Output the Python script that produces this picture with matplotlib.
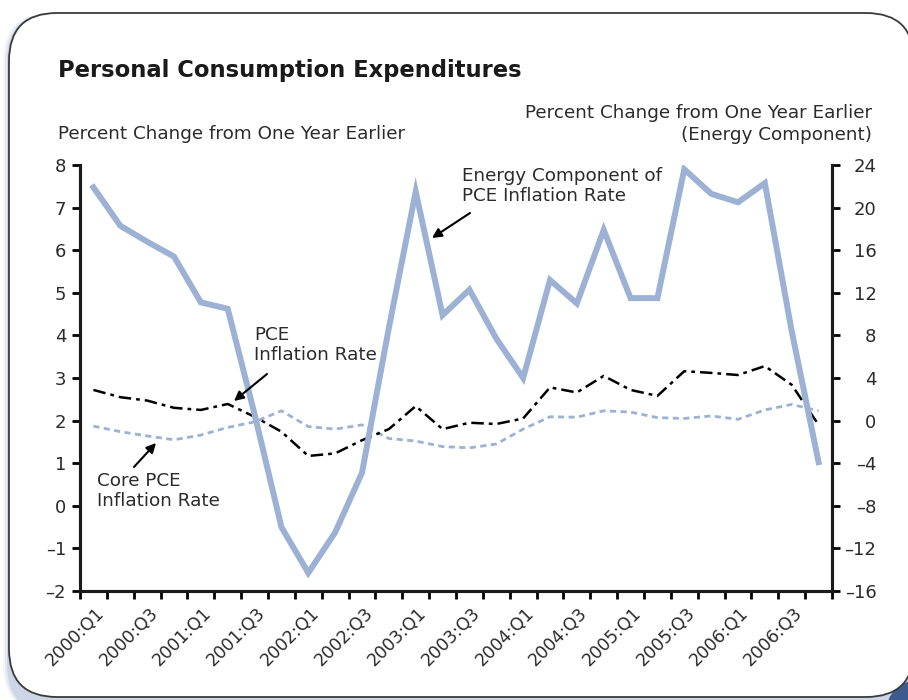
import numpy as np
import matplotlib
matplotlib.use("Agg")
import matplotlib.pyplot as plt
import matplotlib.transforms as mtransforms
from matplotlib.patches import FancyBboxPatch, Circle
from matplotlib.ticker import FuncFormatter

plt.rcParams['font.family'] = ['DejaVu Sans']

# quarters 2000:Q1 .. 2006:Q4
quarters = [f"{y}:Q{q}" for y in range(2000, 2007) for q in range(1, 5)]

# PCE inflation rate (left axis, %)
pce = [2.72, 2.55, 2.47, 2.30, 2.25, 2.39, 2.09, 1.74, 1.17, 1.23,
       1.54, 1.80, 2.34, 1.80, 1.95, 1.92, 2.05, 2.78, 2.66, 3.05,
       2.72, 2.58, 3.16, 3.12, 3.07, 3.28, 2.84, 1.90]

# core PCE inflation rate (left axis, %)
core_pce = [1.87, 1.74, 1.64, 1.55, 1.66, 1.84, 1.97, 2.23, 1.86, 1.80,
            1.90, 1.58, 1.52, 1.39, 1.36, 1.45, 1.80, 2.09, 2.08, 2.23,
            2.20, 2.07, 2.05, 2.11, 2.03, 2.25, 2.38, 2.23]

# energy component (right axis, %)
energy = [21.9, 18.3, 16.8, 15.4, 11.1, 10.5, 0.6, -10.0, -14.3, -10.5,
          -4.9, 8.7, 21.5, 9.9, 12.3, 7.7, 4.0, 13.2, 11.0, 17.9,
          11.5, 11.5, 23.6, 21.3, 20.5, 22.3, 8.4, -3.9]

blue = '#9cb1d3'
txt = '#2b2b2b'

fig = plt.figure(figsize=(9.08, 7.0), dpi=100)


def pixel_axes(z):
    a = fig.add_axes([0, 0, 1, 1], zorder=z)
    a.set_xlim(0, 908)
    a.set_ylim(700, 0)
    a.axis('off')
    a.patch.set_alpha(0)
    return a


# background frame, drawn in pixel units
bg = pixel_axes(-10)
for off, a in [(6, 0.10), (4, 0.15), (2, 0.25)]:
    bg.add_patch(FancyBboxPatch((9 - off, 13), 905, 700,
                                boxstyle="round,pad=0,rounding_size=48",
                                fc='#8ea1c8', ec='none', alpha=a))
bg.add_patch(Circle((918, 712), 32, fc='#3d5a8f', ec='none'))
bg.add_patch(FancyBboxPatch((9, 13), 905, 684,
                            boxstyle="round,pad=0,rounding_size=48",
                            fc='white', ec='#3a3a3a', lw=1.3))

ax = fig.add_axes([80 / 908, 1 - 591 / 700, 752 / 908, 426 / 700])
x = np.arange(len(quarters))
ax.plot(x, core_pce, color=blue, lw=2.0, dashes=(2.2, 1.6))
ax.plot(x, pce, color='black', lw=1.8, dashes=(5, 2, 1.5, 2))
ax.set_xlim(-0.5, len(quarters) - 0.5)
ax.set_ylim(-2, 8)
ax.set_yticks(range(-2, 9))

ax2 = ax.twinx()
ax2.plot(x, energy, color=blue, lw=4.3, solid_joinstyle='miter')
ax2.set_ylim(-16, 24)
ax2.set_yticks(range(-16, 25, 4))
ax2.set_xlim(-0.5, len(quarters) - 0.5)

dash_fmt = FuncFormatter(lambda v, p: f"{v:g}".replace('-', '\u2013'))
for a in (ax, ax2):
    a.yaxis.set_major_formatter(dash_fmt)
    a.spines['top'].set_visible(False)
    for s in ('left', 'right', 'bottom'):
        a.spines[s].set_linewidth(2.2)
        a.spines[s].set_color('#1a1a1a')
    a.patch.set_alpha(0)

ax.tick_params(axis='y', direction='out', length=6, width=2, pad=4,
               labelsize=13, labelcolor=txt)
ax2.tick_params(axis='y', direction='out', length=6, width=2, pad=26,
                labelsize=13, labelcolor=txt)
for lab in ax2.get_yticklabels():
    lab.set_horizontalalignment('right')

ax.set_xticks(x[::2])
ax.set_xticklabels(quarters[::2], rotation=45, ha='right', va='center',
                   rotation_mode='anchor', fontsize=12.5, color=txt)
ax.set_xticks(np.arange(-0.5, len(quarters)), minor=True)
ax.tick_params(axis='x', which='major', length=0, pad=14)
ax.tick_params(axis='x', which='minor', length=6, width=2, direction='out')
shift = mtransforms.ScaledTranslation(8 / 100, 0, fig.dpi_scale_trans)
for lab in ax.get_xticklabels():
    lab.set_transform(lab.get_transform() + shift)

# overlay for titles and annotations
top = pixel_axes(10)
top.text(58, 77, 'Personal Consumption Expenditures',
         fontsize=16.3, fontweight='bold', color='#1a1a1a', va='baseline')
top.text(58, 139, 'Percent Change from One Year Earlier',
         fontsize=13.2, color=txt, va='baseline')
top.text(872, 118, 'Percent Change from One Year Earlier',
         fontsize=13.2, color=txt, va='baseline', ha='right')
top.text(872, 140, '(Energy Component)',
         fontsize=13.2, color=txt, va='baseline', ha='right')


def note(text, xy_txt, tail, head):
    top.text(xy_txt[0], xy_txt[1], text, fontsize=13.2, color=txt,
             va='top', ha='left', linespacing=1.15)
    top.annotate('', xy=head, xytext=tail,
                 arrowprops=dict(arrowstyle='-|>', color='black', lw=1.5,
                                 mutation_scale=14, shrinkA=0, shrinkB=0))


note('Energy Component of\nPCE Inflation Rate', (462, 167), (470, 213), (432, 238))
note('PCE\nInflation Rate', (254, 326), (267, 374), (234, 401))
note('Core PCE\nInflation Rate', (97, 472), (134, 467), (156, 443))

fig.savefig('out.png', dpi=100)
